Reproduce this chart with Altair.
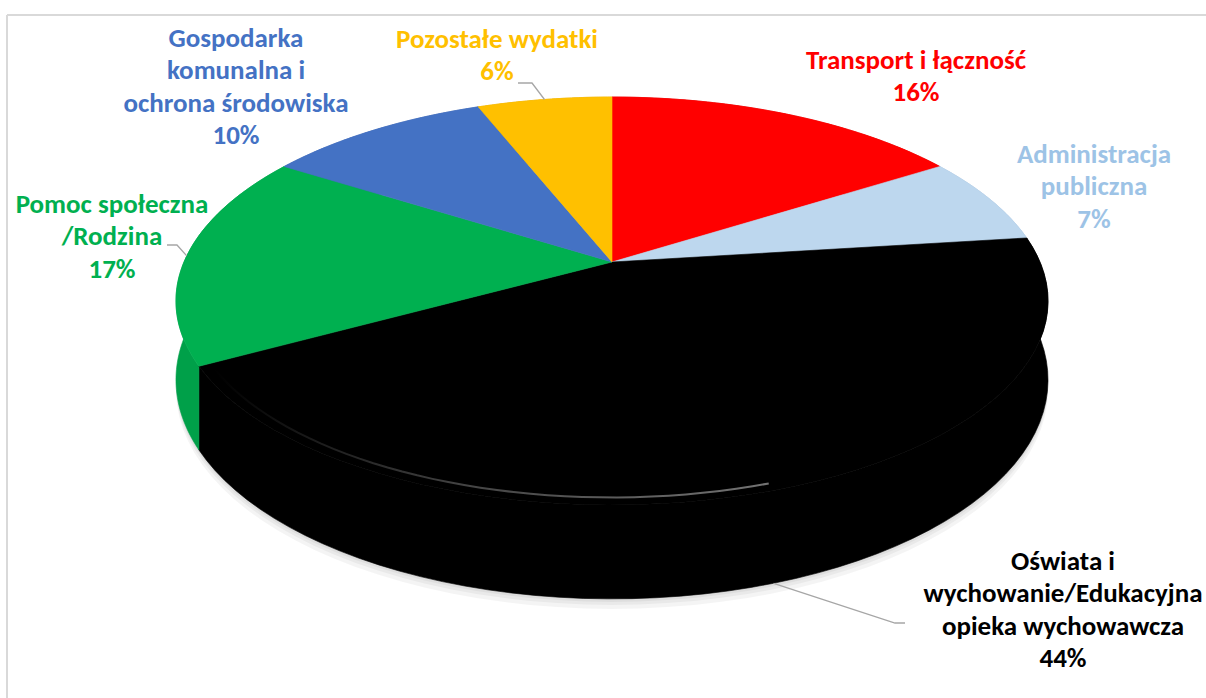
import altair as alt
import pandas as pd

# ---------------- data ----------------
categories = [
    "Transport i łączność",
    "Administracja publiczna",
    "Oświata i wychowanie/Edukacyjna opieka wychowawcza",
    "Pomoc społeczna /Rodzina",
    "Gospodarka komunalna i ochrona środowiska",
    "Pozostałe wydatki",
]
shares = [16, 7, 44, 17, 10, 6]
label_lines = [
    ["Transport i łączność"],
    ["Administracja", "publiczna"],
    ["Oświata i", "wychowanie/Edukacyjna", "opieka wychowawcza"],
    ["Pomoc społeczna", "/Rodzina"],
    ["Gospodarka", "komunalna i", "ochrona środowiska"],
    ["Pozostałe wydatki"],
]

# ---------------- styles / layout ----------------
top_colors = ["#ff0000", "#bdd7ee", "#000000", "#00b050", "#4472c4", "#ffc000"]
side_colors = ["#d90000", "#a3bfd9", "#000000", "#00a049", "#3a63ad", "#e0a800"]
text_colors = ["#ff0000", "#9dc3e6", "#000000", "#00b050", "#4472c4", "#ffc000"]
label_pos = [(916, 69), (1094, 163), (1063, 570), (112, 213), (236, 47), (497, 48)]
# leader lines: (label end, elbow) for the slices that have one
leaders = {
    2: [(905, 623), (895, 623)],
    3: [(167, 245), (177, 245)],
    5: [(518, 83), (532, 83)],
}

W, H = 1206, 698
CX, CY = 612, 262
RX, RY = 428.0, 196.5
K = 0.1911
D = 76
N = 60

# cumulative start / end of each slice (percent)
starts, ends = [], []
acc = 0
for s in shares:
    starts.append(acc)
    acc += s
    ends.append(acc)

# ---------------- tables ----------------
top_rows, side_rows = [], []
for i, c in enumerate(categories):
    base = dict(cat=c, start=starts[i], end=ends[i], r=1.0, off=0)
    top_rows.append(dict(base, idx=0, u=0.0, center=1, bot=0, color=top_colors[i]))
    for k in range(N + 1):
        top_rows.append(dict(base, idx=k + 1, u=k / N, center=0, bot=0, color=top_colors[i]))
    for k in range(2 * N + 2):
        if k <= N:
            u, b = k / N, 0
        else:
            u, b = (2 * N + 1 - k) / N, 1
        side_rows.append(dict(base, idx=k, u=u, center=0, bot=b, color=side_colors[i]))
top_df = pd.DataFrame(top_rows)
side_df = pd.DataFrame(side_rows)

shadow_rows = []
for j, off in enumerate([3, 6, 10]):
    for k in range(121):
        shadow_rows.append(dict(cat=f"s{j}", start=0, end=100, r=1.0, off=off,
                                idx=k, u=k / 120, center=0, bot=1))
shadow_df = pd.DataFrame(shadow_rows)

hl_rows = []
for k in range(41):
    hl_rows.append(dict(cat="hl", start=starts[2], end=ends[2], r=0.975, off=0,
                        idx=k, u=0.5 + 0.49 * k / 40, center=0, bot=0))
hl_df = pd.DataFrame(hl_rows)

label_df = pd.DataFrame({
    "cat": categories,
    "text": ["\n".join(label_lines[i] + [f"{shares[i]}%"]) for i in range(len(categories))],
    "lx": [p[0] for p in label_pos],
    "ly": [p[1] for p in label_pos],
    "tcolor": text_colors,
})

lead_rows = []
for i, pts in leaders.items():
    for s, (px, py) in enumerate(pts):
        lead_rows.append(dict(cat=categories[i], seq=s, px=px, py=py,
                              start=starts[i], end=ends[i]))
    lead_rows.append(dict(cat=categories[i], seq=2, px=0, py=0,
                          start=starts[i], end=ends[i]))
lead_df = pd.DataFrame(lead_rows)

# ---------------- scales ----------------
xs = alt.Scale(domain=[0, W], nice=False, zero=False)
ys = alt.Scale(domain=[0, H], nice=False, zero=False, reverse=True)


def geom(ch):
    return (
        ch.transform_calculate(th="2*PI*(datum.start + (datum.end - datum.start)*datum.u)/100")
        .transform_calculate(x3="sin(datum.th)*datum.r", z3="-cos(datum.th)*datum.r")
        .transform_calculate(w=f"1/(1-{K}*datum.z3)")
        .transform_calculate(
            X=f"datum.center ? {CX} : {CX} + {RX}*datum.x3*datum.w",
            Y=f"(datum.center ? {CY} : {CY} + {RY}*datum.z3*datum.w) + datum.bot*{D}*datum.w + datum.off",
        )
    )


def enc(ch, **kw):
    return ch.encode(
        x=alt.X("X:Q", scale=xs, axis=None),
        y=alt.Y("Y:Q", scale=ys, axis=None),
        detail="cat:N",
        order=alt.Order("idx:Q"),
        **kw,
    )


shadow = enc(geom(alt.Chart(shadow_df).mark_line(
    interpolate="linear-closed", fill="#000000", fillOpacity=0.045, strokeOpacity=0)))

sides = enc(geom(alt.Chart(side_df).mark_line(interpolate="linear-closed", strokeWidth=0.6)),
            fill=alt.Fill("color:N", scale=None), stroke=alt.Stroke("color:N", scale=None))

tops = enc(geom(alt.Chart(top_df).mark_line(interpolate="linear-closed", strokeWidth=0.6)),
           fill=alt.Fill("color:N", scale=None), stroke=alt.Stroke("color:N", scale=None))

highlight = enc(geom(alt.Chart(hl_df).mark_line(
    strokeWidth=2,
    stroke=alt.Gradient(
        gradient="linear",
        stops=[alt.GradientStop(color="#909090", offset=0),
               alt.GradientStop(color="#555555", offset=0.55),
               alt.GradientStop(color="#000000", offset=1)],
        x1=1, x2=0, y1=0, y2=0,
    ),
    opacity=0.8,
)))

lead = (
    alt.Chart(lead_df)
    .transform_calculate(th="2*PI*((datum.start + datum.end)/2)/100")
    .transform_calculate(x3="sin(datum.th)", z3="-cos(datum.th)")
    .transform_calculate(w=f"1/(1-{K}*datum.z3)")
    .transform_calculate(
        X=f"datum.seq == 2 ? {CX} + {RX}*datum.x3*datum.w : datum.px",
        Y=f"datum.seq == 2 ? {CY} + {RY}*datum.z3*datum.w + (datum.z3 > 0 ? {D}*datum.w : 0) : datum.py",
    )
    .mark_line(color="#a6a6a6", strokeWidth=1.3)
    .encode(
        x=alt.X("X:Q", scale=xs, axis=None),
        y=alt.Y("Y:Q", scale=ys, axis=None),
        detail="cat:N",
        order=alt.Order("seq:Q"),
    )
)

labels = alt.Chart(label_df).mark_text(
    font="Carlito, Lato", fontWeight="bold", fontSize=27, lineHeight=32.3,
    align="center", baseline="alphabetic", lineBreak="\n",
).encode(
    x=alt.X("lx:Q", scale=xs, axis=None),
    y=alt.Y("ly:Q", scale=ys, axis=None),
    text="text:N",
    color=alt.Color("tcolor:N", scale=None),
)

frame_top = alt.Chart(label_df).mark_rule(color="#d9d9d9", strokeWidth=2).encode(
    x=alt.value(7), x2=alt.value(W), y=alt.value(15))
frame_left = alt.Chart(label_df).mark_rule(color="#d9d9d9", strokeWidth=2).encode(
    x=alt.value(7), y=alt.value(15), y2=alt.value(H))

chart = (
    alt.layer(frame_top, frame_left, shadow, sides, tops, highlight, lead, labels)
    .properties(width=W, height=H, autosize=alt.AutoSizeParams(type="none"), padding=0)
    .configure_view(stroke=None)
)

chart.save("out.html", embed_options={"renderer": "svg", "actions": False})
